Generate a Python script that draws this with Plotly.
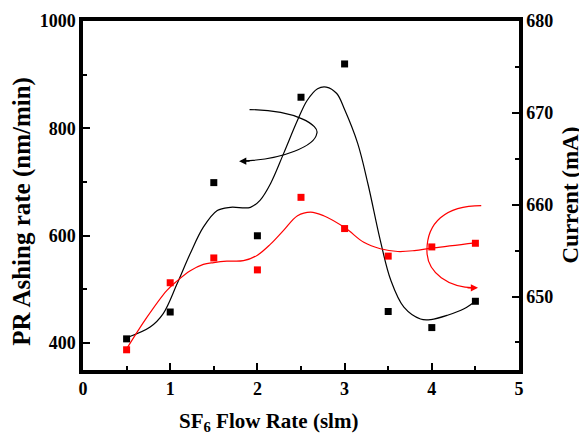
import plotly.graph_objects as go

# ---- data ----
flow_rate = [0.5, 1.0, 1.5, 2.0, 2.5, 3.0, 3.5, 4.0, 4.5]
ashing_rate = [408, 458, 699, 600, 858, 920, 459, 429, 478]
current_ma = [644.2, 651.5, 654.2, 652.9, 660.8, 657.4, 654.4, 655.4, 655.8]

# fitted (smoothed) curves
ashing_fit_x = [0.5, 0.77, 0.92, 1.08, 1.23, 1.38, 1.54, 1.69, 1.92, 2.03, 2.15, 2.30,
                2.46, 2.57, 2.69, 2.79, 2.91, 3.0, 3.15, 3.27, 3.41, 3.53, 3.68, 3.87,
                3.99, 4.18, 4.37, 4.5]
ashing_fit_y = [410, 430, 455, 511, 567, 616, 647, 653, 653, 666, 697, 753,
                815, 852, 874, 877, 865, 835, 772, 695, 591, 517, 467, 445,
                444, 452, 464, 478]
current_fit_x = [0.5, 0.73, 0.96, 1.08, 1.23, 1.38, 1.5, 1.65, 1.84, 2.0, 2.15, 2.30,
                 2.46, 2.61, 2.76, 3.01, 3.22, 3.41, 3.61, 3.80, 4.02, 4.5]
current_fit_y = [644.3, 647.7, 650.65, 651.7, 652.8, 653.5, 653.7, 653.85, 653.9, 654.5,
                 655.7, 657.2, 658.8, 659.2, 658.8, 657.45, 655.9, 655.2, 654.9, 655.0,
                 655.3, 655.85]

x_ticks = [0, 1, 2, 3, 4, 5]
left_ticks = [400, 600, 800, 1000]
right_ticks = [650, 660, 670, 680]

FONT = "Liberation Serif"

fig = go.Figure()
fig.add_trace(go.Scatter(x=ashing_fit_x, y=ashing_fit_y, mode="lines",
                         line=dict(color="black", width=1.2, shape="spline"),
                         showlegend=False, hoverinfo="skip"))
fig.add_trace(go.Scatter(x=flow_rate, y=ashing_rate, mode="markers",
                         marker=dict(symbol="square", size=7, color="black"),
                         showlegend=False))
fig.add_trace(go.Scatter(x=current_fit_x, y=current_fit_y, mode="lines", yaxis="y2",
                         line=dict(color="red", width=1.2, shape="spline"),
                         showlegend=False, hoverinfo="skip"))
fig.add_trace(go.Scatter(x=flow_rate, y=current_ma, mode="markers", yaxis="y2",
                         marker=dict(symbol="square", size=7, color="red"),
                         showlegend=False))

tickfont = dict(family=FONT, size=18, color="black", weight="bold")
axis_common = dict(showline=True, linecolor="black", linewidth=3.5, ticks="inside",
                   tickcolor="black", tickwidth=2, ticklen=7, showgrid=False,
                   zeroline=False, tickfont=tickfont, automargin=False)

# the page body adds an 8 px offset, so the figure is 8 px smaller and shifted
fig.update_layout(
    width=579, height=428,
    margin=dict(l=75, r=68, t=13, b=66, autoexpand=False),
    plot_bgcolor="white", paper_bgcolor="white",
    xaxis=dict(range=[0, 5], tickvals=x_ticks, mirror=True,
               minor=dict(dtick=0.5, tick0=0, ticks="inside", ticklen=4,
                          tickwidth=2, tickcolor="black"),
               **axis_common),
    yaxis=dict(range=[350, 1000], tickvals=left_ticks,
               minor=dict(dtick=100, tick0=0, ticks="inside", ticklen=4,
                          tickwidth=2, tickcolor="black"),
               **axis_common),
    yaxis2=dict(range=[642, 680], tickvals=right_ticks, overlaying="y", side="right",
                minor=dict(dtick=5, tick0=0, ticks="inside", ticklen=4,
                           tickwidth=2, tickcolor="black"),
                **axis_common),
)

# arrows indicating which axis each curve belongs to
fig.add_shape(type="path", xref="x", yref="y",
              path="M 1.91,835 C 2.45,834 2.72,805 2.68,790 C 2.66,768 2.30,742 1.84,739.5",
              line=dict(color="black", width=1.2))
fig.add_annotation(x=1.79, y=739, xref="x", yref="y", ax=12, ay=0, text="",
                   showarrow=True, arrowhead=2, arrowsize=1.2, arrowwidth=1.2,
                   arrowcolor="black", standoff=0)
fig.add_shape(type="path", xref="x", yref="y2",
              path="M 4.567,659.9 C 4.15,659.9 3.944,658.0 3.944,655.0 C 3.944,652.5 4.2,651.0 4.49,650.95",
              line=dict(color="red", width=1.2))
fig.add_annotation(x=4.53, y=650.95, xref="x", yref="y2", ax=-12, ay=0, text="",
                   showarrow=True, arrowhead=2, arrowsize=1.2, arrowwidth=1.2,
                   arrowcolor="red", standoff=0)

# axis titles
fig.add_annotation(text="<b>PR Ashing rate (nm/min)</b>", xref="paper", yref="paper",
                   x=-0.14, y=0.456, textangle=-90, showarrow=False,
                   xanchor="center", yanchor="middle",
                   font=dict(family=FONT, size=25, color="black"))
fig.add_annotation(text="<b>Current (mA)</b>", xref="paper", yref="paper",
                   x=1.117, y=0.50, textangle=-90, showarrow=False,
                   xanchor="center", yanchor="middle",
                   font=dict(family=FONT, size=23, color="black"))
fig.add_annotation(text="<b>SF<sub>6</sub> Flow Rate (slm)</b>", xref="paper", yref="paper",
                   x=0.426, y=-0.148, showarrow=False,
                   xanchor="center", yanchor="middle",
                   font=dict(family=FONT, size=21, color="black"))

fig.write_html("out.html")
